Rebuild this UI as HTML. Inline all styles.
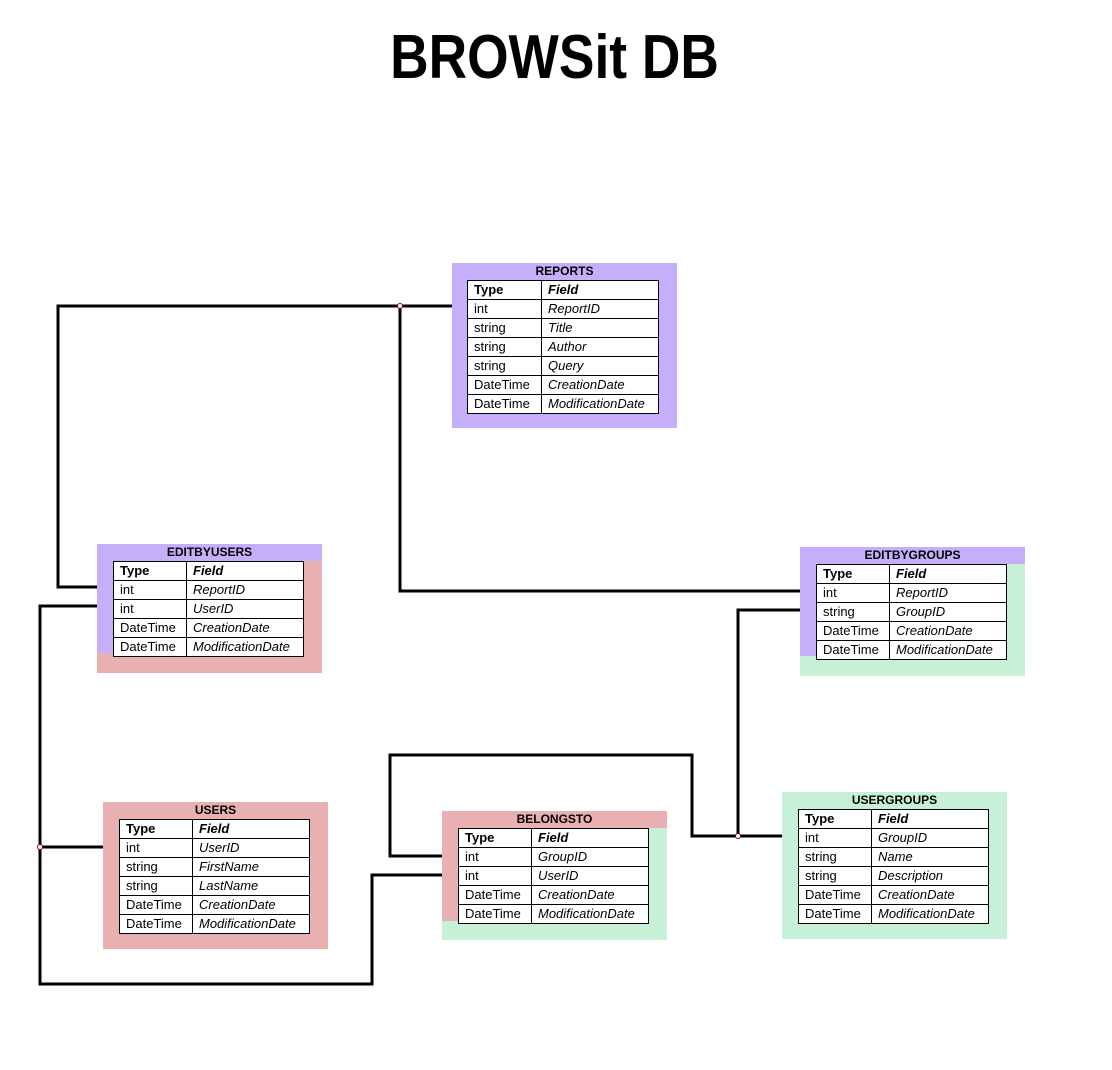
<!DOCTYPE html>
<html><head><meta charset="utf-8"><style>
body{margin:0;width:1112px;height:1070px;background:#fff;position:relative;overflow:hidden;font-family:"Liberation Sans",sans-serif}
.t{position:absolute;left:0;top:22px;width:1112px;text-align:center;font-weight:bold;font-size:62px;transform:scaleX(.86);transform-origin:545px 0}
.b{position:absolute}
.h{position:absolute;left:0;right:0;top:0;height:17px;text-align:center;font-weight:bold;font-size:12px;line-height:17px}
table{position:absolute;border-collapse:collapse;background:#fff;font-size:13px}
td{border:1px solid #000;height:18px;padding:0 0 0 6px;line-height:18px;white-space:nowrap}
td+td{font-style:italic}
tr:first-child td{font-weight:bold}
</style></head><body>
<div class="t">BROWSit DB</div>
<svg width="1112" height="1070" style="position:absolute;left:0;top:0" fill="none" stroke="#000" stroke-width="3">
<polyline points="452,306 58,306 58,587 113,587"/>
<polyline points="400,306 400,591 800,591"/>
<polyline points="113,606 40,606 40,984 372,984 372,875 458,875"/>
<line x1="40" y1="847" x2="103" y2="847"/>
<polyline points="816,610 738,610 738,836"/>
<polyline points="782,836 692,836 692,755 390,755 390,856 458,856"/>
<g stroke="#800" stroke-width="1" fill="#fff"><circle cx="400" cy="306" r="2.5"/><circle cx="40" cy="847" r="2.5"/><circle cx="738" cy="836" r="2.5"/></g>
</svg>

<!-- REPORTS -->
<div class="b" style="left:452px;top:263px;width:225px;height:165px;background:#c6affa"><div class="h">REPORTS</div></div>
<table style="left:467px;top:280px;width:192px"><colgroup><col style="width:74px"><col></colgroup>
<tr><td>Type</td><td>Field</td></tr><tr><td>int</td><td>ReportID</td></tr><tr><td>string</td><td>Title</td></tr><tr><td>string</td><td>Author</td></tr><tr><td>string</td><td>Query</td></tr><tr><td>DateTime</td><td>CreationDate</td></tr><tr><td>DateTime</td><td>ModificationDate</td></tr></table>

<!-- EDITBYUSERS -->
<div class="b" style="left:97px;top:544px;width:225px;height:129px;background:#e8b0b0"><div style="position:absolute;left:0;top:0;width:225px;height:17px;background:#c6affa"></div><div style="position:absolute;left:0;top:0;width:16px;height:109px;background:#c6affa"></div><div class="h">EDITBYUSERS</div></div>
<table style="left:113px;top:561px;width:191px"><colgroup><col style="width:73px"><col></colgroup>
<tr><td>Type</td><td>Field</td></tr><tr><td>int</td><td>ReportID</td></tr><tr><td>int</td><td>UserID</td></tr><tr><td>DateTime</td><td>CreationDate</td></tr><tr><td>DateTime</td><td>ModificationDate</td></tr></table>

<!-- EDITBYGROUPS -->
<div class="b" style="left:800px;top:547px;width:225px;height:129px;background:#c6f0d8"><div style="position:absolute;left:0;top:0;width:225px;height:17px;background:#c6affa"></div><div style="position:absolute;left:0;top:0;width:16px;height:109px;background:#c6affa"></div><div class="h">EDITBYGROUPS</div></div>
<table style="left:816px;top:564px;width:191px"><colgroup><col style="width:73px"><col></colgroup>
<tr><td>Type</td><td>Field</td></tr><tr><td>int</td><td>ReportID</td></tr><tr><td>string</td><td>GroupID</td></tr><tr><td>DateTime</td><td>CreationDate</td></tr><tr><td>DateTime</td><td>ModificationDate</td></tr></table>

<!-- USERS -->
<div class="b" style="left:103px;top:802px;width:225px;height:147px;background:#e8b0b0"><div class="h">USERS</div></div>
<table style="left:119px;top:819px;width:191px"><colgroup><col style="width:73px"><col></colgroup>
<tr><td>Type</td><td>Field</td></tr><tr><td>int</td><td>UserID</td></tr><tr><td>string</td><td>FirstName</td></tr><tr><td>string</td><td>LastName</td></tr><tr><td>DateTime</td><td>CreationDate</td></tr><tr><td>DateTime</td><td>ModificationDate</td></tr></table>

<!-- BELONGSTO -->
<div class="b" style="left:442px;top:811px;width:225px;height:129px;background:#c6f0d8"><div style="position:absolute;left:0;top:0;width:225px;height:17px;background:#e8b0b0"></div><div style="position:absolute;left:0;top:0;width:16px;height:110px;background:#e8b0b0"></div><div class="h">BELONGSTO</div></div>
<table style="left:458px;top:828px;width:191px"><colgroup><col style="width:73px"><col></colgroup>
<tr><td>Type</td><td>Field</td></tr><tr><td>int</td><td>GroupID</td></tr><tr><td>int</td><td>UserID</td></tr><tr><td>DateTime</td><td>CreationDate</td></tr><tr><td>DateTime</td><td>ModificationDate</td></tr></table>

<!-- USERGROUPS -->
<div class="b" style="left:782px;top:792px;width:225px;height:147px;background:#c6f0d8"><div class="h">USERGROUPS</div></div>
<table style="left:798px;top:809px;width:191px"><colgroup><col style="width:73px"><col></colgroup>
<tr><td>Type</td><td>Field</td></tr><tr><td>int</td><td>GroupID</td></tr><tr><td>string</td><td>Name</td></tr><tr><td>string</td><td>Description</td></tr><tr><td>DateTime</td><td>CreationDate</td></tr><tr><td>DateTime</td><td>ModificationDate</td></tr></table>
</body></html>
